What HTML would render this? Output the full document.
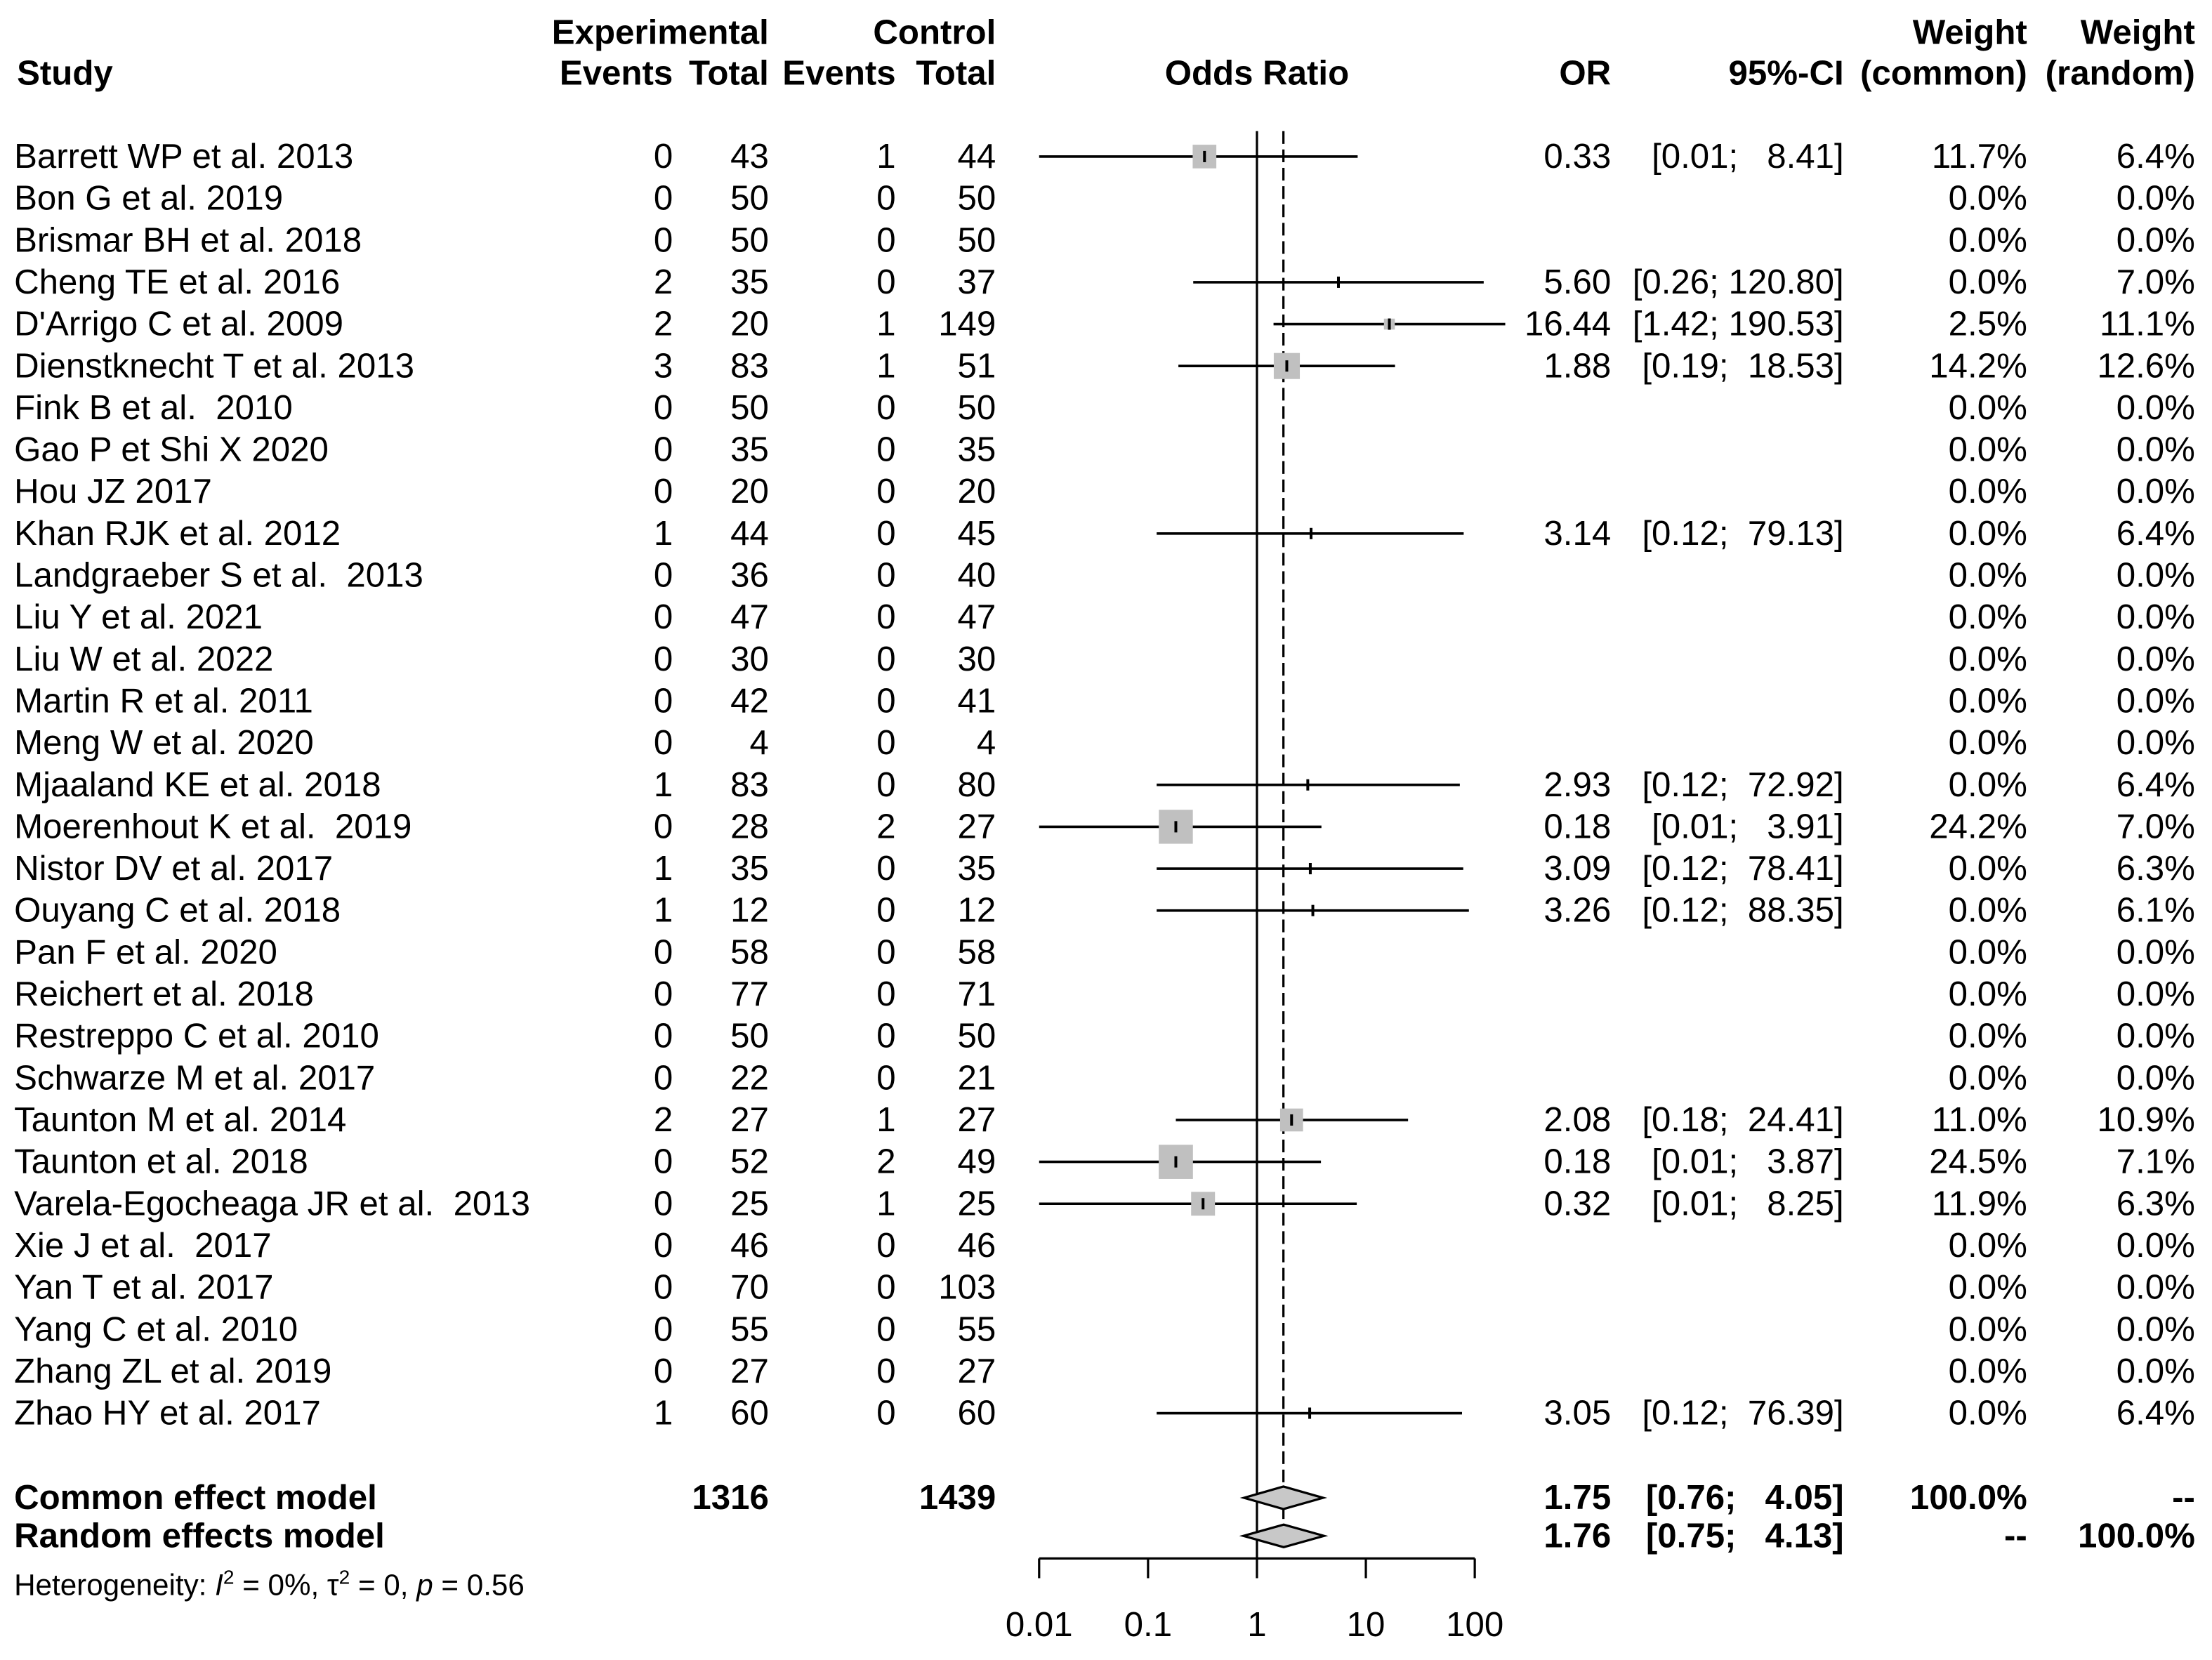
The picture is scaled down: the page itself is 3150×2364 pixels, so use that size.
<!DOCTYPE html>
<html><head><meta charset="utf-8"><style>
html,body{margin:0;padding:0;background:#fff;}
svg{display:block;}
text{font-family:"Liberation Sans",Arial,sans-serif;font-size:24.5px;fill:#000;white-space:pre;}
.b{font-weight:bold;}
</style></head><body>
<svg id="chart" width="3150" height="2364" viewBox="0 0 1568 1177" preserveAspectRatio="none" xmlns="http://www.w3.org/2000/svg">
<g>
<text class="b" x="545" y="31" text-anchor="end">Experimental</text>
<text class="b" x="706" y="31" text-anchor="end">Control</text>
<text class="b" x="1437" y="31" text-anchor="end">Weight</text>
<text class="b" x="1556" y="31" text-anchor="end">Weight</text>
<text class="b" x="12" y="60">Study</text>
<text class="b" x="477" y="60" text-anchor="end">Events</text>
<text class="b" x="545" y="60" text-anchor="end">Total</text>
<text class="b" x="635" y="60" text-anchor="end">Events</text>
<text class="b" x="706" y="60" text-anchor="end">Total</text>
<text class="b" x="891" y="60" text-anchor="middle">Odds Ratio</text>
<text class="b" x="1142" y="60" text-anchor="end">OR</text>
<text class="b" x="1307" y="60" text-anchor="end">95%-CI</text>
<text class="b" x="1437" y="60" text-anchor="end">(common)</text>
<text class="b" x="1556" y="60" text-anchor="end">(random)</text>
</g>
</svg>
<script>
const studies = ["Barrett WP et al. 2013","Bon G et al. 2019","Brismar BH et al. 2018","Cheng TE et al. 2016","D'Arrigo C et al. 2009","Dienstknecht T et al. 2013","Fink B et al.  2010","Gao P et Shi X 2020","Hou JZ 2017","Khan RJK et al. 2012","Landgraeber S et al.  2013","Liu Y et al. 2021","Liu W et al. 2022","Martin R et al. 2011","Meng W et al. 2020","Mjaaland KE et al. 2018","Moerenhout K et al.  2019","Nistor DV et al. 2017","Ouyang C et al. 2018","Pan F et al. 2020","Reichert et al. 2018","Restreppo C et al. 2010","Schwarze M et al. 2017","Taunton M et al. 2014","Taunton et al. 2018","Varela-Egocheaga JR et al.  2013","Xie J et al.  2017","Yan T et al. 2017","Yang C et al. 2010","Zhang ZL et al. 2019","Zhao HY et al. 2017"];
const expEvents = [0,0,0,2,2,3,0,0,0,1,0,0,0,0,0,1,0,1,1,0,0,0,0,2,0,0,0,0,0,0,1];
const expTotal = [43,50,50,35,20,83,50,35,20,44,36,47,30,42,4,83,28,35,12,58,77,50,22,27,52,25,46,70,55,27,60];
const ctrlEvents = [1,0,0,0,1,1,0,0,0,0,0,0,0,0,0,0,2,0,0,0,0,0,0,1,2,1,0,0,0,0,0];
const ctrlTotal = [44,50,50,37,149,51,50,35,20,45,40,47,30,41,4,80,27,35,12,58,71,50,21,27,49,25,46,103,55,27,60];
const orVal = [0.33,null,null,5.60,16.44,1.88,null,null,null,3.14,null,null,null,null,null,2.93,0.18,3.09,3.26,null,null,null,null,2.08,0.18,0.32,null,null,null,null,3.05];
const ciLow = [0.01,null,null,0.26,1.42,0.19,null,null,null,0.12,null,null,null,null,null,0.12,0.01,0.12,0.12,null,null,null,null,0.18,0.01,0.01,null,null,null,null,0.12];
const ciHigh = [8.41,null,null,120.80,190.53,18.53,null,null,null,79.13,null,null,null,null,null,72.92,3.91,78.41,88.35,null,null,null,null,24.41,3.87,8.25,null,null,null,null,76.39];
const wCommon = [11.7,0,0,0,2.5,14.2,0,0,0,0,0,0,0,0,0,0,24.2,0,0,0,0,0,0,11.0,24.5,11.9,0,0,0,0,0];
const wRandom = [6.4,0,0,7.0,11.1,12.6,0,0,0,6.4,0,0,0,0,0,6.4,7.0,6.3,6.1,0,0,0,0,10.9,7.1,6.3,0,0,0,0,6.4];
const pooledLabels = ["Common effect model","Random effects model"];
const pooledOR = [1.75,1.76];
const pooledLow = [0.76,0.75];
const pooledHigh = [4.05,4.13];
const pooledWC = ["100.0%","--"];
const pooledWR = ["--","100.0%"];
const totals = [1316,1439];
const ticks = [0.01,0.1,1,10,100];
const tickLabels = ["0.01","0.1","1","10","100"];

const svg = document.getElementById('chart');
const NS = 'http://www.w3.org/2000/svg';
const X0 = 891, DEC = 77.2;
function xs(v){ return X0 + Math.log10(v)*DEC; }
function rowY(i){ return 111 + i*29.7; }
function mk(tag, attrs, parent){
  const e = document.createElementNS(NS, tag);
  for (const k in attrs) e.setAttribute(k, attrs[k]);
  (parent||svg).appendChild(e);
  return e;
}
function txt(s, x, y, anchor, cls, parent){
  const t = mk('text', {x:x, y:y, 'text-anchor':anchor||'start'}, parent);
  if (cls) t.setAttribute('class', cls);
  t.textContent = s;
  return t;
}
function f2(v){ return v.toFixed(2); }

const axisY = 1105;
const ref = mk('line', {x1:X0, x2:X0, y1:93, y2:axisY, stroke:'#000', 'stroke-width':1.6});


const cx = xs(pooledOR[0]);
const dash = mk('line', {x1:cx, x2:cx, y1:93, y2:1080, stroke:'#000', 'stroke-width':1.6, 'stroke-dasharray':'9,4'});



for (let i=0;i<studies.length;i++){
  const y = rowY(i), by = y+8;
  const g = mk('g', {});
  
  
  const n = txt(studies[i], 10, by, 'start', '', g);
  
  
  txt(String(expEvents[i]), 477, by, 'end', '', g);
  txt(String(expTotal[i]), 545, by, 'end', '', g);
  txt(String(ctrlEvents[i]), 635, by, 'end', '', g);
  txt(String(ctrlTotal[i]), 706, by, 'end', '', g);
  txt(wCommon[i].toFixed(1)+'%', 1437, by, 'end', '', g);
  txt(wRandom[i].toFixed(1)+'%', 1556, by, 'end', '', g);
  if (orVal[i] !== null){
    txt(f2(orVal[i]), 1142, by, 'end', '', g);
    const ci = '[' + f2(ciLow[i]) + '; ' + f2(ciHigh[i]).padStart(6,' ') + ']';
    txt(ci, 1307, by, 'end', '', g);
    const lo = Math.max(xs(ciLow[i]), 734), hi = Math.min(xs(ciHigh[i]), 1070);
    const l = mk('line', {x1:lo, x2:hi, y1:y, y2:y, stroke:'#000', 'stroke-width':1.8}, g);
    
    
    if (wCommon[i] > 0){
      const s = 4.9*Math.sqrt(wCommon[i]);
      const sq = mk('rect', {x:xs(orVal[i])-s/2, y:y-s/2, width:s, height:s, fill:'#c0c0c0'}, g);
      
      
    }
    const pt = mk('line', {x1:xs(orVal[i]), x2:xs(orVal[i]), y1:y-4, y2:y+4, stroke:'#000', 'stroke-width':2}, g);
    
    
  }
}

const pooledY = [1062, 1089];
for (let k=0;k<2;k++){
  const y = pooledY[k], by = y+8;
  const g = mk('g', {});
  
  
  txt(pooledLabels[k], 10, by, 'start', 'b', g);
  if (k===0){ txt(String(totals[0]), 545, by, 'end', 'b', g); txt(String(totals[1]), 706, by, 'end', 'b', g); }
  txt(f2(pooledOR[k]), 1142, by, 'end', 'b', g);
  txt('[' + f2(pooledLow[k]) + '; ' + f2(pooledHigh[k]).padStart(6,' ') + ']', 1307, by, 'end', 'b', g);
  txt(pooledWC[k], 1437, by, 'end', 'b', g);
  txt(pooledWR[k], 1556, by, 'end', 'b', g);
  const a = xs(pooledLow[k]), m = xs(pooledOR[k]), b = xs(pooledHigh[k]);
  const d = mk('polygon', {points:`${a},${y} ${m},${y-8} ${b},${y} ${m},${y+8}`, fill:'#c8c8c8', stroke:'#000', 'stroke-width':1.6}, g);
  
  
}
const het = mk('text', {x:10, y:1131, style:'font-size:21px'});


het.innerHTML = 'Heterogeneity: <tspan font-style="italic">I</tspan><tspan dy="-8" font-size="14">2</tspan><tspan dy="8"> = 0%, τ</tspan><tspan dy="-8" font-size="14">2</tspan><tspan dy="8"> = 0, </tspan><tspan font-style="italic">p</tspan> = 0.56';

const ax = mk('g', {});


mk('line', {x1:xs(ticks[0]), x2:xs(ticks[ticks.length-1]), y1:axisY, y2:axisY, stroke:'#000', 'stroke-width':1.6}, ax);
for (let i=0;i<ticks.length;i++){
  const tx = xs(ticks[i]);
  const t = mk('line', {x1:tx, x2:tx, y1:axisY, y2:axisY+14, stroke:'#000', 'stroke-width':1.6}, ax);
  
  
  const lb = txt(tickLabels[i], tx, 1160, 'middle', '', ax);
  
  
}
</script>
</body></html>
